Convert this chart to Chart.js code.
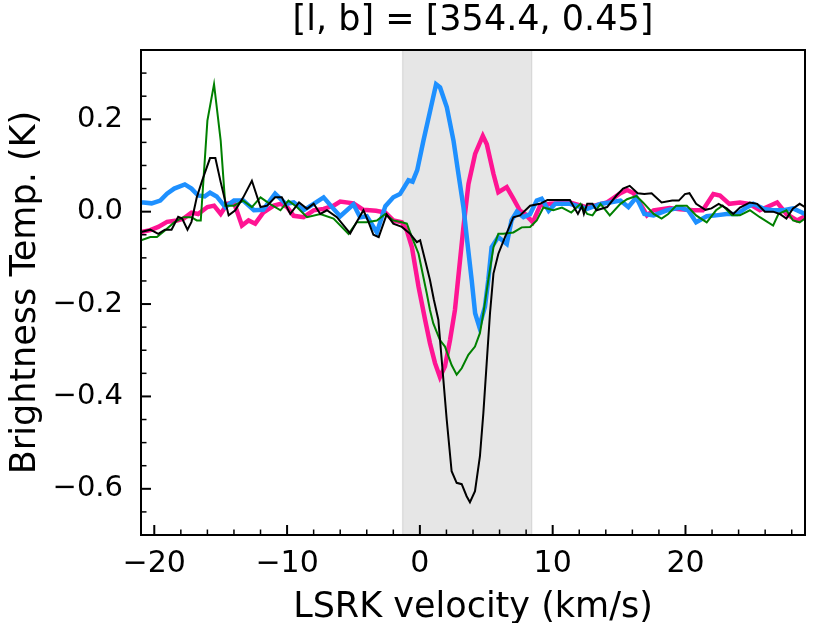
<!DOCTYPE html>
<html>
<head>
<meta charset="utf-8">
<script src="https://cdn.jsdelivr.net/npm/chart.js@4.4.1/dist/chart.umd.min.js"></script>
<style>
  html, body { margin: 0; padding: 0; background: #fff; }
  #spectrum { display: block; }
</style>
</head>
<body>
<canvas id="spectrum" width="830" height="623"></canvas>
<script>
// axis limits and the shaded velocity window (km/s)
const xLimits = [-21, 29];
const yLimits = [-0.7, 0.35];
const shadeWindow = [-1.3, 8.42];

// tick positions: every value gets a tick, the labelled ones are major
const xTicks = [-20, -18, -16, -14, -12, -10, -8, -6, -4, -2, 0, 2, 4, 6, 8, 10, 12, 14, 16, 18, 20, 22, 24, 26, 28];
const xLabelled = [-20, -10, 0, 10, 20];
const yTicks = [-0.65, -0.6, -0.55, -0.5, -0.45, -0.4, -0.35, -0.3, -0.25, -0.2, -0.15, -0.1, -0.05, 0, 0.05, 0.1, 0.15, 0.2, 0.25, 0.3];
const yLabelled = [-0.6, -0.4, -0.2, 0, 0.2];

// spectra: [velocity (km/s), brightness temp (K)]
const blueSpec = [
    [-21, 0.02], [-20.8, 0.02], [-20.2, 0.018], [-19.55, 0.024], [-19.04, 0.039], [-18.5, 0.05],
    [-17.7, 0.059], [-17.2, 0.05], [-16.7, 0.035], [-16.2, 0.033], [-15.8, 0.041], [-15.3, 0.033],
    [-14.65, 0.01], [-14.0, 0.024], [-13.3, 0.024], [-12.5, 0.003], [-11.8, 0.004], [-10.9, 0.039],
    [-10.1, 0.017], [-9.5, 0.02], [-8.76, 0.003], [-8.0, 0.017], [-7.25, 0.031], [-6.5, 0.006],
    [-6.0, -0.01], [-5.0, 0.016], [-4.5, -0.012], [-4.0, -0.01], [-3.24, -0.045], [-2.6, 0.012],
    [-2.0, 0.031], [-1.5, 0.038], [-0.86, 0.068], [-0.55, 0.065], [-0.2, 0.09], [0.27, 0.154],
    [0.77, 0.218], [1.22, 0.276], [1.52, 0.269], [2.03, 0.226], [2.53, 0.154], [2.9, 0.082],
    [3.28, 0.01], [3.53, -0.055], [3.9, -0.148], [4.16, -0.22], [4.47, -0.249], [4.9, -0.206],
    [5.15, -0.148], [5.4, -0.077], [5.9, -0.055], [6.54, -0.07], [6.9, -0.019], [7.3, 0.0],
    [7.8, -0.012], [8.3, -0.005], [8.8, 0.024], [9.17, 0.028], [9.7, 0.002], [10.2, 0.017],
    [11.3, 0.017], [12.6, 0.006], [13.6, 0.017], [14.3, 0.02], [15.1, 0.024], [15.7, 0.01],
    [16.3, 0.031], [16.9, -0.005], [17.6, -0.008], [18.6, 0.003], [19.6, 0.009], [20.2, 0.003],
    [20.8, -0.023], [21.6, -0.01], [22.3, -0.008], [23.1, -0.005], [23.9, -0.005], [24.6, 0.009],
    [25.1, 0.017], [25.9, 0.006], [26.6, 0.003], [27.4, 0.003], [28.1, 0.007], [29, -0.005]
];

const pinkSpec = [
    [-21, -0.044], [-20.3, -0.04], [-19.7, -0.033], [-19.04, -0.022], [-18.3, -0.019], [-17.8, -0.015],
    [-17.2, -0.002], [-16.7, -0.005], [-16.0, 0.01], [-15.5, 0.013], [-15.0, -0.005], [-14.5, 0.017],
    [-14.0, 0.02], [-13.4, -0.03], [-12.9, -0.019], [-12.4, -0.026], [-11.8, -0.002], [-11.0, 0.013],
    [-10.5, 0.017], [-10.0, 0.01], [-9.5, -0.009], [-8.76, -0.012], [-8.0, 0.003], [-7.25, 0.006],
    [-6.5, 0.013], [-6.0, 0.022], [-5.0, 0.018], [-4.25, 0.004], [-3.3, 0.002], [-2.6, -0.002],
    [-2.0, -0.019], [-1.36, -0.023], [-0.98, -0.041], [-0.6, -0.077], [-0.1, -0.163], [0.4, -0.235],
    [0.76, -0.285], [1.14, -0.328], [1.51, -0.358], [1.89, -0.335], [2.27, -0.278], [2.64, -0.213],
    [2.9, -0.14], [3.28, -0.033], [3.66, 0.06], [4.16, 0.125], [4.74, 0.164], [5.04, 0.146],
    [5.54, 0.082], [5.91, 0.042], [6.54, 0.053], [7.04, 0.028], [7.54, 0.002], [7.92, -0.005],
    [8.5, -0.023], [9.05, 0.013], [9.8, 0.017], [11.3, 0.02], [12.6, 0.009], [14.1, 0.02],
    [14.6, 0.03], [15.1, 0.04], [15.6, 0.047], [16.1, 0.04], [16.6, 0.017], [17.1, -0.008],
    [17.6, 0.003], [18.8, 0.008], [19.6, 0.005], [20.6, 0.003], [21.3, 0.003], [22.1, 0.038],
    [22.6, 0.035], [23.3, 0.017], [24.1, 0.02], [24.8, 0.017], [25.6, 0.003], [26.9, 0.02],
    [27.6, -0.005], [28.4, -0.019], [29, -0.01]
];

const greenSpec = [
    [-21, -0.062], [-20.3, -0.055], [-19.8, -0.055], [-19.2, -0.041], [-18.5, -0.023], [-17.8, -0.012],
    [-17.2, -0.012], [-16.8, -0.019], [-16.5, -0.019], [-16.0, 0.197], [-15.5, 0.276], [-15.0, 0.154],
    [-14.65, 0.013], [-14.0, 0.013], [-13.3, 0.024], [-12.65, 0.01], [-12.0, 0.031], [-11.3, 0.017],
    [-10.5, 0.003], [-9.9, 0.024], [-9.26, 0.01], [-8.5, -0.012], [-7.5, -0.005], [-6.5, -0.015],
    [-5.37, -0.048], [-4.75, -0.023], [-4.0, -0.023], [-3.24, -0.019], [-2.6, -0.005], [-2.0, -0.019],
    [-1.36, -0.023], [-0.98, -0.026], [-0.6, -0.055], [-0.1, -0.091], [0.52, -0.177], [0.76, -0.213],
    [1.01, -0.242], [1.51, -0.278], [1.89, -0.292], [2.39, -0.332], [2.77, -0.353], [3.15, -0.339],
    [3.65, -0.31], [4.15, -0.292], [4.52, -0.263], [4.78, -0.22], [5.15, -0.148], [5.54, -0.077],
    [5.91, -0.048], [6.29, -0.048], [7.04, -0.045], [7.67, -0.034], [8.3, -0.033], [8.8, -0.019],
    [9.3, 0.009], [10.05, 0.003], [10.7, 0.009], [11.4, -0.002], [12.1, 0.017], [12.6, -0.005],
    [13.0, -0.008], [13.6, 0.017], [14.3, -0.008], [15.1, 0.017], [15.6, 0.027], [16.3, 0.034],
    [16.8, 0.02], [17.6, -0.005], [18.2, -0.015], [18.7, -0.005], [19.3, 0.013], [20.1, 0.013],
    [20.8, -0.008], [21.6, -0.023], [22.3, 0.003], [22.8, 0.013], [23.5, -0.008], [24.1, -0.008],
    [24.85, 0.003], [25.6, -0.012], [26.6, -0.03], [27.0, -0.005], [27.6, 0.003], [28.1, -0.019],
    [28.6, -0.023], [29, -0.015]
];

const blackSpec = [
    [-21, -0.044], [-20.3, -0.039], [-19.7, -0.048], [-19.2, -0.039], [-18.7, -0.039], [-18.2, -0.011],
    [-17.9, -0.015], [-17.5, -0.039], [-17.2, -0.022], [-16.8, 0.031], [-16.4, 0.067], [-15.8, 0.116],
    [-15.4, 0.116], [-15.0, 0.064], [-14.4, -0.008], [-13.9, 0.003], [-13.3, 0.031], [-12.65, 0.067],
    [-12.0, 0.01], [-11.5, 0.013], [-10.9, 0.031], [-10.4, 0.031], [-9.76, -0.005], [-9.1, 0.02],
    [-8.5, 0.006], [-8.0, 0.017], [-7.5, -0.005], [-7.0, 0.003], [-6.25, -0.012], [-5.25, -0.047],
    [-4.75, -0.022], [-4.25, 0.003], [-3.87, -0.022], [-3.5, -0.05], [-3.1, -0.055], [-2.5, -0.006],
    [-2.0, -0.026], [-1.36, -0.033], [-0.73, -0.048], [-0.23, -0.066], [0.02, -0.062], [0.52, -0.12],
    [0.76, -0.148], [1.05, -0.19], [1.39, -0.234], [1.77, -0.364], [2.02, -0.45], [2.39, -0.562],
    [2.77, -0.587], [3.15, -0.59], [3.52, -0.616], [3.77, -0.629], [4.15, -0.605], [4.52, -0.53],
    [4.78, -0.436], [5.03, -0.328], [5.28, -0.22], [5.54, -0.134], [5.91, -0.091], [6.41, -0.055],
    [7.04, -0.012], [7.54, -0.008], [8.3, 0.013], [9.05, 0.017], [9.6, 0.025], [11.3, 0.025],
    [11.9, -0.005], [12.2, 0.012], [12.35, -0.005], [12.6, 0.017], [13.0, 0.017], [13.3, 0.003],
    [14.1, 0.01], [14.8, 0.035], [15.3, 0.05], [15.8, 0.056], [16.4, 0.04], [16.9, 0.038],
    [17.45, 0.04], [18.2, 0.02], [19.0, 0.024], [19.5, 0.024], [19.96, 0.038], [20.3, 0.04],
    [20.8, 0.017], [21.5, 0.004], [21.96, 0.007], [22.5, 0.017], [23.1, 0.007], [23.6, -0.005],
    [24.1, 0.009], [24.85, 0.02], [25.4, 0.017], [25.98, 0.0], [26.6, 0.0], [27.1, -0.005],
    [27.6, -0.015], [28.1, 0.007], [28.6, 0.017], [29, 0.01]
];

const titleText = '[l, b] = [354.4, 0.45]';
const xLabel = 'LSRK velocity (km/s)';
const yLabel = 'Brightness Temp. (K)';

const FONT = '"DejaVu Sans", sans-serif';

function toPoints(spec) {
    return spec.map(p => ({ x: p[0], y: p[1] }));
}

function isLabelled(list, v) {
    return list.some(l => Math.abs(l - v) < 1e-6);
}

function fmt(v, digits) {
    const s = Math.abs(v).toFixed(digits);
    return v < -1e-9 ? '\u2212' + s : s;
}

// shaded window, frame, inward ticks and the title centred over the axes
const axesDecor = {
    id: 'axesDecor',
    beforeDatasetsDraw(chart) {
        const { ctx, chartArea: a, scales: { x } } = chart;
        const x0 = x.getPixelForValue(shadeWindow[0]);
        const x1 = x.getPixelForValue(shadeWindow[1]);
        ctx.save();
        ctx.fillStyle = 'rgba(128,128,128,0.2)';
        ctx.fillRect(x0, a.top, x1 - x0, a.bottom - a.top);
        ctx.strokeStyle = 'rgba(128,128,128,0.2)';
        ctx.lineWidth = 1.4;
        ctx.beginPath();
        ctx.moveTo(x0, a.top); ctx.lineTo(x0, a.bottom);
        ctx.moveTo(x1, a.top); ctx.lineTo(x1, a.bottom);
        ctx.stroke();
        ctx.restore();
    },
    afterDatasetsDraw(chart) {
        const { ctx, chartArea: a, scales: { x, y } } = chart;
        ctx.save();
        ctx.strokeStyle = '#000';
        x.ticks.forEach(t => {
            const px = x.getPixelForValue(t.value);
            const major = isLabelled(xLabelled, t.value);
            ctx.lineWidth = major ? 2 : 1.5;
            ctx.beginPath();
            ctx.moveTo(px, a.bottom);
            ctx.lineTo(px, a.bottom - (major ? 10 : 5.5));
            ctx.stroke();
        });
        y.ticks.forEach(t => {
            const py = y.getPixelForValue(t.value);
            const major = isLabelled(yLabelled, t.value);
            ctx.lineWidth = major ? 2 : 1.5;
            ctx.beginPath();
            ctx.moveTo(a.left, py);
            ctx.lineTo(a.left + (major ? 10 : 5.5), py);
            ctx.stroke();
        });
        ctx.lineWidth = 2;
        ctx.strokeRect(a.left, a.top, a.right - a.left, a.bottom - a.top);

        ctx.fillStyle = '#000';
        ctx.font = '35px ' + FONT;
        ctx.textAlign = 'center';
        ctx.textBaseline = 'middle';
        ctx.fillText(titleText, (a.left + a.right) / 2, 21);
        ctx.restore();
    }
};

Chart.defaults.font.family = FONT;
Chart.defaults.color = '#000';

const lineStyle = (color, width) => ({
    borderColor: color,
    borderWidth: width,
    pointRadius: 0,
    tension: 0,
    fill: false
});

new Chart(document.getElementById('spectrum'), {
    type: 'line',
    data: {
        datasets: [
            { label: 'black', data: toPoints(blackSpec), ...lineStyle('#000000', 2) },
            { label: 'green', data: toPoints(greenSpec), ...lineStyle('#008000', 2) },
            { label: 'blue', data: toPoints(blueSpec), ...lineStyle('#1e90ff', 4.5) },
            { label: 'pink', data: toPoints(pinkSpec), ...lineStyle('#ff1493', 4.5) }
        ]
    },
    options: {
        responsive: false,
        animation: false,
        devicePixelRatio: 1,
        layout: { padding: { left: 0, right: 25, top: 50, bottom: 0 } },
        plugins: {
            legend: { display: false },
            tooltip: { enabled: false },
            title: { display: false }
        },
        scales: {
            x: {
                type: 'linear',
                min: xLimits[0],
                max: xLimits[1],
                afterBuildTicks: scale => { scale.ticks = xTicks.map(v => ({ value: v })); },
                afterFit: scale => { scale.height = 88; },
                grid: { display: false },
                border: { display: false },
                ticks: {
                    autoSkip: false,
                    maxRotation: 0,
                    padding: 3,
                    font: { size: 30 },
                    callback: v => (isLabelled(xLabelled, v) ? fmt(v, 0) : '')
                },
                title: {
                    display: true,
                    text: xLabel,
                    font: { size: 35, lineHeight: 0.86 },
                    padding: { top: 0, bottom: 0 }
                }
            },
            y: {
                type: 'linear',
                min: yLimits[0],
                max: yLimits[1],
                afterBuildTicks: scale => { scale.ticks = yTicks.map(v => ({ value: v })); },
                afterFit: scale => { scale.width = 141; },
                grid: { display: false },
                border: { display: false },
                ticks: {
                    autoSkip: false,
                    padding: 10,
                    font: { size: 29 },
                    callback: v => (isLabelled(yLabelled, v) ? fmt(v, 1) : '')
                },
                title: {
                    display: true,
                    text: yLabel,
                    font: { size: 35 },
                    padding: { top: 5, bottom: 0 }
                }
            }
        }
    },
    plugins: [axesDecor]
});
</script>
</body>
</html>
